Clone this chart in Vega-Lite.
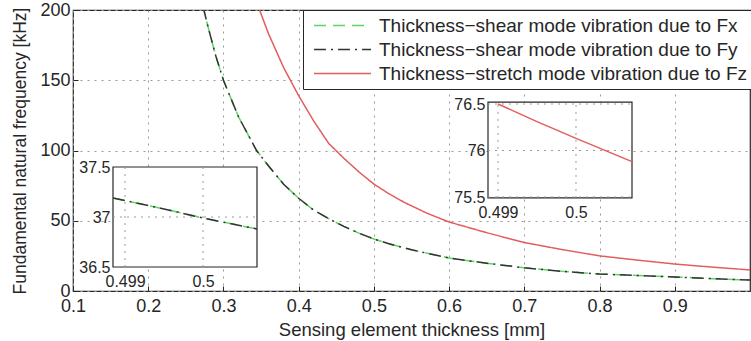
{
  "$schema": "https://vega.github.io/schema/vega-lite/v6.json",
  "width": 677,
  "height": 281,
  "autosize": {"type": "none"},
  "padding": {"left": 73, "top": 10, "right": 1, "bottom": 50},
  "background": "white",
  "config": {
    "font": "Liberation Sans",
    "view": {"stroke": "#262626", "strokeWidth": 1.2},
    "axis": {
      "labelFont": "Liberation Sans",
      "titleFont": "Liberation Sans",
      "labelColor": "#262626",
      "titleColor": "#262626",
      "titleFontWeight": "normal",
      "gridColor": "#9a9a9a",
      "gridDash": [2, 5],
      "gridOpacity": 1,
      "gridWidth": 1,
      "domain": false,
      "tickColor": "#262626",
      "labelFlush": false,
      "labelOverlap": false
    },
    "legend": {
      "orient": "none",
      "legendX": 230,
      "legendY": 0,
      "strokeColor": "#262626",
      "fillColor": "white",
      "padding": 5,
      "symbolOffset": 24,
      "labelFont": "Liberation Sans",
      "labelFontSize": 19,
      "labelColor": "#262626",
      "labelLimit": 0,
      "labelOffset": 26,
      "symbolType": "M-3,0H3",
      "symbolSize": 361,
      "symbolStrokeWidth": 1.5,
      "rowPadding": 3
    }
  },
  "datasets": {
    "curves": [
      {"series": "Thickness−shear mode vibration due to Fx", "t": 0.265, "f": 218},
      {"series": "Thickness−shear mode vibration due to Fx", "t": 0.274, "f": 200},
      {"series": "Thickness−shear mode vibration due to Fx", "t": 0.28, "f": 187},
      {"series": "Thickness−shear mode vibration due to Fx", "t": 0.29, "f": 167},
      {"series": "Thickness−shear mode vibration due to Fx", "t": 0.30, "f": 150},
      {"series": "Thickness−shear mode vibration due to Fx", "t": 0.32, "f": 124},
      {"series": "Thickness−shear mode vibration due to Fx", "t": 0.344, "f": 100},
      {"series": "Thickness−shear mode vibration due to Fx", "t": 0.36, "f": 89},
      {"series": "Thickness−shear mode vibration due to Fx", "t": 0.38, "f": 76},
      {"series": "Thickness−shear mode vibration due to Fx", "t": 0.40, "f": 66},
      {"series": "Thickness−shear mode vibration due to Fx", "t": 0.42, "f": 57.5},
      {"series": "Thickness−shear mode vibration due to Fx", "t": 0.44, "f": 51.5},
      {"series": "Thickness−shear mode vibration due to Fx", "t": 0.46, "f": 46},
      {"series": "Thickness−shear mode vibration due to Fx", "t": 0.48, "f": 41.2},
      {"series": "Thickness−shear mode vibration due to Fx", "t": 0.50, "f": 37},
      {"series": "Thickness−shear mode vibration due to Fx", "t": 0.52, "f": 33.6},
      {"series": "Thickness−shear mode vibration due to Fx", "t": 0.55, "f": 29.3},
      {"series": "Thickness−shear mode vibration due to Fx", "t": 0.60, "f": 23.5},
      {"series": "Thickness−shear mode vibration due to Fx", "t": 0.65, "f": 19.7},
      {"series": "Thickness−shear mode vibration due to Fx", "t": 0.70, "f": 16.5},
      {"series": "Thickness−shear mode vibration due to Fx", "t": 0.75, "f": 14},
      {"series": "Thickness−shear mode vibration due to Fx", "t": 0.80, "f": 12.1},
      {"series": "Thickness−shear mode vibration due to Fx", "t": 0.85, "f": 11},
      {"series": "Thickness−shear mode vibration due to Fx", "t": 0.90, "f": 10},
      {"series": "Thickness−shear mode vibration due to Fx", "t": 0.95, "f": 8.8},
      {"series": "Thickness−shear mode vibration due to Fx", "t": 1.00, "f": 7.8},
      {"series": "Thickness−shear mode vibration due to Fy", "t": 0.265, "f": 218},
      {"series": "Thickness−shear mode vibration due to Fy", "t": 0.274, "f": 200},
      {"series": "Thickness−shear mode vibration due to Fy", "t": 0.28, "f": 187},
      {"series": "Thickness−shear mode vibration due to Fy", "t": 0.29, "f": 167},
      {"series": "Thickness−shear mode vibration due to Fy", "t": 0.30, "f": 150},
      {"series": "Thickness−shear mode vibration due to Fy", "t": 0.32, "f": 124},
      {"series": "Thickness−shear mode vibration due to Fy", "t": 0.344, "f": 100},
      {"series": "Thickness−shear mode vibration due to Fy", "t": 0.36, "f": 89},
      {"series": "Thickness−shear mode vibration due to Fy", "t": 0.38, "f": 76},
      {"series": "Thickness−shear mode vibration due to Fy", "t": 0.40, "f": 66},
      {"series": "Thickness−shear mode vibration due to Fy", "t": 0.42, "f": 57.5},
      {"series": "Thickness−shear mode vibration due to Fy", "t": 0.44, "f": 51.5},
      {"series": "Thickness−shear mode vibration due to Fy", "t": 0.46, "f": 46},
      {"series": "Thickness−shear mode vibration due to Fy", "t": 0.48, "f": 41.2},
      {"series": "Thickness−shear mode vibration due to Fy", "t": 0.50, "f": 37},
      {"series": "Thickness−shear mode vibration due to Fy", "t": 0.52, "f": 33.6},
      {"series": "Thickness−shear mode vibration due to Fy", "t": 0.55, "f": 29.3},
      {"series": "Thickness−shear mode vibration due to Fy", "t": 0.60, "f": 23.5},
      {"series": "Thickness−shear mode vibration due to Fy", "t": 0.65, "f": 19.7},
      {"series": "Thickness−shear mode vibration due to Fy", "t": 0.70, "f": 16.5},
      {"series": "Thickness−shear mode vibration due to Fy", "t": 0.75, "f": 14},
      {"series": "Thickness−shear mode vibration due to Fy", "t": 0.80, "f": 12.1},
      {"series": "Thickness−shear mode vibration due to Fy", "t": 0.85, "f": 11},
      {"series": "Thickness−shear mode vibration due to Fy", "t": 0.90, "f": 10},
      {"series": "Thickness−shear mode vibration due to Fy", "t": 0.95, "f": 8.8},
      {"series": "Thickness−shear mode vibration due to Fy", "t": 1.00, "f": 7.8},
      {"series": "Thickness−stretch mode vibration due to Fz", "t": 0.34, "f": 213},
      {"series": "Thickness−stretch mode vibration due to Fz", "t": 0.348, "f": 200},
      {"series": "Thickness−stretch mode vibration due to Fz", "t": 0.36, "f": 183},
      {"series": "Thickness−stretch mode vibration due to Fz", "t": 0.38, "f": 159},
      {"series": "Thickness−stretch mode vibration due to Fz", "t": 0.40, "f": 139},
      {"series": "Thickness−stretch mode vibration due to Fz", "t": 0.42, "f": 121},
      {"series": "Thickness−stretch mode vibration due to Fz", "t": 0.44, "f": 105},
      {"series": "Thickness−stretch mode vibration due to Fz", "t": 0.46, "f": 94.5},
      {"series": "Thickness−stretch mode vibration due to Fz", "t": 0.48, "f": 84.8},
      {"series": "Thickness−stretch mode vibration due to Fz", "t": 0.50, "f": 76.1},
      {"series": "Thickness−stretch mode vibration due to Fz", "t": 0.52, "f": 69.2},
      {"series": "Thickness−stretch mode vibration due to Fz", "t": 0.54, "f": 63.2},
      {"series": "Thickness−stretch mode vibration due to Fz", "t": 0.57, "f": 55.5},
      {"series": "Thickness−stretch mode vibration due to Fz", "t": 0.60, "f": 49.1},
      {"series": "Thickness−stretch mode vibration due to Fz", "t": 0.65, "f": 41.5},
      {"series": "Thickness−stretch mode vibration due to Fz", "t": 0.70, "f": 34.5},
      {"series": "Thickness−stretch mode vibration due to Fz", "t": 0.75, "f": 29.5},
      {"series": "Thickness−stretch mode vibration due to Fz", "t": 0.80, "f": 25},
      {"series": "Thickness−stretch mode vibration due to Fz", "t": 0.85, "f": 22},
      {"series": "Thickness−stretch mode vibration due to Fz", "t": 0.90, "f": 19.2},
      {"series": "Thickness−stretch mode vibration due to Fz", "t": 0.95, "f": 17},
      {"series": "Thickness−stretch mode vibration due to Fz", "t": 1.00, "f": 15}
    ],
    "insetShear": [
      {"t": 0.498846, "f": 37.19},
      {"t": 0.4995, "f": 37.08},
      {"t": 0.5, "f": 36.99},
      {"t": 0.500692, "f": 36.88}
    ],
    "insetStretch": [
      {"t": 0.499, "f": 76.5},
      {"t": 0.4995, "f": 76.31},
      {"t": 0.5, "f": 76.13},
      {"t": 0.500718, "f": 75.88}
    ]
  },
  "layer": [
    {
      "data": {"name": "curves"},
      "mark": {"type": "line", "clip": true, "strokeWidth": 1.5},
      "encoding": {
        "x": {
          "field": "t", "type": "quantitative",
          "scale": {"domain": [0.1, 1.0], "nice": false, "zero": false},
          "axis": {"orient": "bottom", "title": "Sensing element thickness [mm]", "values": [0.1, 0.2, 0.3, 0.4, 0.5, 0.6, 0.7, 0.8, 0.9], "format": "~g", "labelFontSize": 18, "titleFontSize": 18.5, "tickSize": -5, "labelPadding": 11, "titlePadding": 5}
        },
        "y": {
          "field": "f", "type": "quantitative",
          "scale": {"domain": [0, 200], "nice": false, "zero": false},
          "axis": {"orient": "left", "title": "Fundamental natural frequency [kHz]", "values": [0, 50, 100, 150, 200], "labelFontSize": 18, "titleFontSize": 17.5, "tickSize": -5, "labelPadding": 8, "titlePadding": 10}
        },
        "color": {
          "field": "series", "type": "nominal",
          "scale": {"domain": ["Thickness−shear mode vibration due to Fx", "Thickness−shear mode vibration due to Fy", "Thickness−stretch mode vibration due to Fz"], "range": ["#5cd65c", "#333333", "#e35d5d"]},
          "legend": {"title": null}
        },
        "strokeDash": {
          "field": "series", "type": "nominal",
          "scale": {"domain": ["Thickness−shear mode vibration due to Fx", "Thickness−shear mode vibration due to Fy", "Thickness−stretch mode vibration due to Fz"], "range": [[12, 7], [12, 5, 2, 5], [1, 0]]},
          "legend": {"title": null}
        }
      }
    },
    {
      "layer": [
        {
          "data": {"values": [{}]},
          "mark": {"type": "rect", "fill": "white", "stroke": "#262626", "strokeWidth": 1.2},
          "encoding": {
            "x": {"datum": 0.498846, "type": "quantitative", "title": null,
              "scale": {"domain": [0.498846, 0.500692], "range": [40, 184], "nice": false, "zero": false},
              "axis": {"orient": "bottom", "offset": -20, "values": [0.499, 0.5], "format": "~g", "labelFontSize": 16, "labelPadding": 2, "zindex": 1, "grid": false, "ticks": false, "tickSize": 0}},
            "x2": {"datum": 0.500692},
            "y": {"datum": 36.5, "type": "quantitative", "title": null,
              "scale": {"domain": [36.5, 37.5], "range": [257, 157], "nice": false, "zero": false},
              "axis": {"orient": "left", "offset": -40, "values": [36.5, 37, 37.5], "format": "~g", "labelFontSize": 16, "labelPadding": 3, "zindex": 1, "grid": false, "ticks": false, "tickSize": 0}},
            "y2": {"datum": 37.5}
          }
        },
        {
          "data": {"values": [{}]},
          "mark": {"type": "rule", "color": "#9a9a9a", "strokeDash": [2, 5], "strokeWidth": 1},
          "encoding": {"x": {"datum": 0.499, "type": "quantitative", "title": null}, "y": {"datum": 36.5, "type": "quantitative", "title": null}, "y2": {"datum": 37.5}}
        },
        {
          "data": {"values": [{}]},
          "mark": {"type": "rule", "color": "#9a9a9a", "strokeDash": [2, 5], "strokeWidth": 1},
          "encoding": {"x": {"datum": 0.5, "type": "quantitative", "title": null}, "y": {"datum": 36.5, "type": "quantitative", "title": null}, "y2": {"datum": 37.5}}
        },
        {
          "data": {"values": [{}]},
          "mark": {"type": "rule", "color": "#9a9a9a", "strokeDash": [2, 5], "strokeWidth": 1},
          "encoding": {"y": {"datum": 37, "type": "quantitative", "title": null}, "x": {"datum": 0.498846, "type": "quantitative", "title": null}, "x2": {"datum": 0.500692}}
        },
        {
          "data": {"name": "insetShear"},
          "mark": {"type": "line", "color": "#5cd65c", "strokeDash": [12, 7], "strokeWidth": 1.5},
          "encoding": {"x": {"field": "t", "type": "quantitative", "title": null}, "y": {"field": "f", "type": "quantitative", "title": null}}
        },
        {
          "data": {"name": "insetShear"},
          "mark": {"type": "line", "color": "#333333", "strokeDash": [12, 5, 2, 5], "strokeWidth": 1.5},
          "encoding": {"x": {"field": "t", "type": "quantitative", "title": null}, "y": {"field": "f", "type": "quantitative", "title": null}}
        }
      ]
    },
    {
      "layer": [
        {
          "data": {"values": [{}]},
          "mark": {"type": "rect", "fill": "white", "stroke": "#262626", "strokeWidth": 1.2},
          "encoding": {
            "x": {"datum": 0.498872, "type": "quantitative", "title": null,
              "scale": {"domain": [0.498872, 0.500718], "range": [415, 559], "nice": false, "zero": false},
              "axis": {"orient": "bottom", "offset": -93, "values": [0.499, 0.5], "format": "~g", "labelFontSize": 16, "labelPadding": 6, "zindex": 1, "grid": false, "ticks": false, "tickSize": 0}},
            "x2": {"datum": 0.500718},
            "y": {"datum": 75.49, "type": "quantitative", "title": null,
              "scale": {"domain": [75.5, 76.5], "range": [187, 94], "nice": false, "zero": false},
              "axis": {"orient": "left", "offset": -415, "values": [75.5, 76, 76.5], "format": "~g", "labelFontSize": 16, "labelPadding": 3, "zindex": 1, "grid": false, "ticks": false, "tickSize": 0}},
            "y2": {"datum": 76.52}
          }
        },
        {
          "data": {"values": [{}]},
          "mark": {"type": "rule", "color": "#9a9a9a", "strokeDash": [2, 5], "strokeWidth": 1},
          "encoding": {"x": {"datum": 0.499, "type": "quantitative", "title": null}, "y": {"datum": 75.49, "type": "quantitative", "title": null}, "y2": {"datum": 76.52}}
        },
        {
          "data": {"values": [{}]},
          "mark": {"type": "rule", "color": "#9a9a9a", "strokeDash": [2, 5], "strokeWidth": 1},
          "encoding": {"x": {"datum": 0.5, "type": "quantitative", "title": null}, "y": {"datum": 75.49, "type": "quantitative", "title": null}, "y2": {"datum": 76.52}}
        },
        {
          "data": {"values": [{}]},
          "mark": {"type": "rule", "color": "#9a9a9a", "strokeDash": [2, 5], "strokeWidth": 1},
          "encoding": {"y": {"datum": 76, "type": "quantitative", "title": null}, "x": {"datum": 0.498872, "type": "quantitative", "title": null}, "x2": {"datum": 0.500718}}
        },
        {
          "data": {"values": [{}]},
          "mark": {"type": "rule", "color": "#9a9a9a", "strokeDash": [2, 5], "strokeWidth": 1},
          "encoding": {"y": {"datum": 76.5, "type": "quantitative", "title": null}, "x": {"datum": 0.498872, "type": "quantitative", "title": null}, "x2": {"datum": 0.500718}}
        },
        {
          "data": {"values": [{}]},
          "mark": {"type": "rule", "color": "#9a9a9a", "strokeDash": [2, 5], "strokeWidth": 1},
          "encoding": {"y": {"datum": 75.5, "type": "quantitative", "title": null}, "x": {"datum": 0.498872, "type": "quantitative", "title": null}, "x2": {"datum": 0.500718}}
        },
        {
          "data": {"name": "insetStretch"},
          "mark": {"type": "line", "color": "#e35d5d", "strokeWidth": 1.5},
          "encoding": {"x": {"field": "t", "type": "quantitative", "title": null}, "y": {"field": "f", "type": "quantitative", "title": null}}
        }
      ]
    }
  ],
  "resolve": {
    "scale": {"x": "independent", "y": "independent"},
    "axis": {"x": "independent", "y": "independent"}
  }
}
